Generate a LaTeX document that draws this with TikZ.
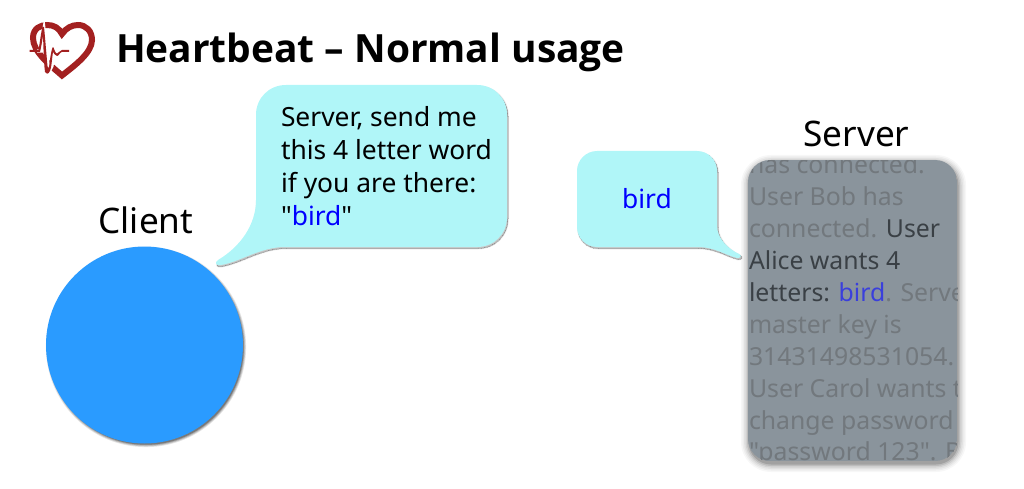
\documentclass[tikz,border=0pt]{standalone}
\usepackage{fontspec}
\newfontfamily\mainface{Noto Sans}
\newfontfamily\titleface{Open Sans}[BoldFont={Open Sans Bold}]
\definecolor{bubblefill}{HTML}{B0F6F8}
\definecolor{clientblue}{HTML}{2A9BFF}
\definecolor{boxgrey}{HTML}{8A949C}
\definecolor{dimtext}{HTML}{72787D}
\definecolor{darktext}{HTML}{3A4045}
\definecolor{memblue}{HTML}{3A3FDC}
\definecolor{logored}{HTML}{A32020}
\newcommand{\fs}[1]{\fontsize{#1}{#1}\selectfont}
\tikzset{
  bubble/.style={fill=bubblefill},
  line/.style={anchor=base west,inner sep=0pt,outer sep=0pt},
  msg/.style={line,font=\mainface\fs{26.4}},
  mem/.style={line,font=\mainface\fs{24.8},text=dimtext},
  label/.style={anchor=base,inner sep=0pt,font=\mainface\fs{35.2},text=black},
}
\begin{document}
\begin{tikzpicture}[x=1pt,y=-1pt]
\useasboundingbox (0,0) rectangle (1024,489);
% logo
\draw[logored,line width=6pt,line join=miter] (62,75.5)
  .. controls (50,65) and (33,52) .. (33,38)
  .. controls (33,28) and (41,25) .. (47,25)
  .. controls (54,25) and (59,28) .. (62,34)
  .. controls (66,28) and (72,25) .. (78,25)
  .. controls (86,25) and (92,31) .. (92,40)
  .. controls (92,53) and (74,66) .. (62,75.5) -- cycle;
\draw[white,line width=3.2pt] (37,51) -- (40.5,51) -- (44,29) -- (49,72) -- (52,66) -- (54,52);
\fill[logored] (29.5,50) -- (38.5,50) .. controls (40,42) and (41,32) .. (42.5,27)
  -- (44,27) .. controls (45,36) and (46,50) .. (47.5,66)
  .. controls (48,69) and (49,68) .. (49.5,64)
  .. controls (50,58) and (51.5,50) .. (52.5,47.5)
  -- (53.5,47.5) .. controls (54.5,50) and (55.5,53.5) .. (57,53.5)
  .. controls (58.5,53.5) and (60,50) .. (62,50) -- (69,50) -- (69,52) -- (62,52)
  .. controls (60,52) and (59,56) .. (57,56)
  .. controls (55,56) and (54,53) .. (53,52)
  .. controls (52,58) and (51.5,68) .. (50,71)
  .. controls (48,75) and (46,74) .. (45,72)
  .. controls (43.5,60) and (43.5,45) .. (43,36)
  .. controls (42,42) and (41,48) .. (40,52) -- (29.5,52) -- cycle;
% client
\foreach \g/\o in {3/0.10,2/0.14,1/0.18,0/0.25}{
  \fill[black,opacity=\o] (146,347) circle ({97.7+\g*0.8});}
\node[circle,fill=clientblue,minimum size=197pt,inner sep=0pt] (client) at (144.5,345) {};
\node[label] (clientlabel) at (146,233) {Client};
% bubble one
\foreach \g/\o in {2/0.05,1/0.07,0/0.10}{
\path[fill=black,draw=black,opacity=\o,line width=\g*1pt,shift={(1,1.5)}]
  (286,85) -- (477,85) .. controls (494,85) and (507,98) .. (507,115) -- (507,217)
  .. controls (507,234) and (494,247) .. (477,247) -- (285,247)
  .. controls (260,247) and (240,262) .. (221,265) .. controls (216,266) and (214,263) .. (218,260)
  .. controls (240,247) and (256,225) .. (256,200) -- (256,115)
  .. controls (256,98) and (269,85) .. (286,85) -- cycle;}
\fill[bubble] (286,85) -- (477,85) .. controls (494,85) and (507,98) .. (507,115) -- (507,217)
  .. controls (507,234) and (494,247) .. (477,247) -- (285,247)
  .. controls (260,247) and (240,262) .. (221,265) .. controls (216,266) and (214,263) .. (218,260)
  .. controls (240,247) and (256,225) .. (256,200) -- (256,115)
  .. controls (256,98) and (269,85) .. (286,85) -- cycle;
\node[msg] (m1) at (281,126.5) {Server, send me};
\node[msg] (m2) at (281,159.5) {this 4 letter word};
\node[msg] (m3) at (281,192) {if you are there:};
\node[msg] (m4) at (281,225) {"\textcolor{blue}{bird}"};
% bubble two
\foreach \g/\o in {2/0.05,1/0.07,0/0.10}{
\path[fill=black,draw=black,opacity=\o,line width=\g*1pt,shift={(1,1.5)}]
  (597,151) -- (697,151) .. controls (708,151) and (717,160) .. (717,171) -- (717,226)
  .. controls (717,238) and (728,249) .. (739,254) .. controls (742,256) and (741,258) .. (737,258)
  .. controls (725,255) and (715,247) .. (697,247) -- (597,247)
  .. controls (586,247) and (577,238) .. (577,227) -- (577,171)
  .. controls (577,160) and (586,151) .. (597,151) -- cycle;}
\fill[bubble] (597,151) -- (697,151) .. controls (708,151) and (717,160) .. (717,171) -- (717,226)
  .. controls (717,238) and (728,249) .. (739,254) .. controls (742,256) and (741,258) .. (737,258)
  .. controls (725,255) and (715,247) .. (697,247) -- (597,247)
  .. controls (586,247) and (577,238) .. (577,227) -- (577,171)
  .. controls (577,160) and (586,151) .. (597,151) -- cycle;
\node[anchor=base,inner sep=0pt,font=\mainface\fs{26.4},text=blue] (word) at (647,208) {bird};
% server
\foreach \g/\o in {8/0.03,6.5/0.04,5/0.05,3.5/0.07,2/0.10,0.5/0.14}{
  \fill[black,opacity=\o,rounded corners={22pt+\g*1pt}] (748-\g+1,160-\g+3) rectangle (957+\g+1,461+\g+3);}
\node[label] (serverlabel) at (856.5,147) {Server};
\begin{scope}
\clip[rounded corners=22pt] (748,160) rectangle (957,461);
\fill[boxgrey] (748,160) rectangle (957,461);
\node[mem] (s1) at (749,173.5) {has connected.};
\node[mem] (s2) at (749,205.5) {User Bob has};
\node[mem] (s3) at (749,237.5) {connected. \textcolor{darktext}{User}};
\node[mem,text=darktext] (s4) at (749,269.5) {Alice wants 4};
\node[mem] (s5) at (749,301) {\textcolor{darktext}{letters:} \textcolor{memblue}{bird}. Server};
\node[mem] (s6) at (749,333) {master key is};
\node[mem] (s7) at (749,365) {31431498531054.};
\node[mem] (s8) at (749,397) {User Carol wants to};
\node[mem] (s9) at (749,429) {change password};
\node[mem] (s10) at (749,460) {"password 123". But};
\end{scope}
% title
\node[line,font=\titleface\fs{38.9}\bfseries] (title) at (116,63) {Heartbeat – Normal usage};
\end{tikzpicture}
\end{document}
